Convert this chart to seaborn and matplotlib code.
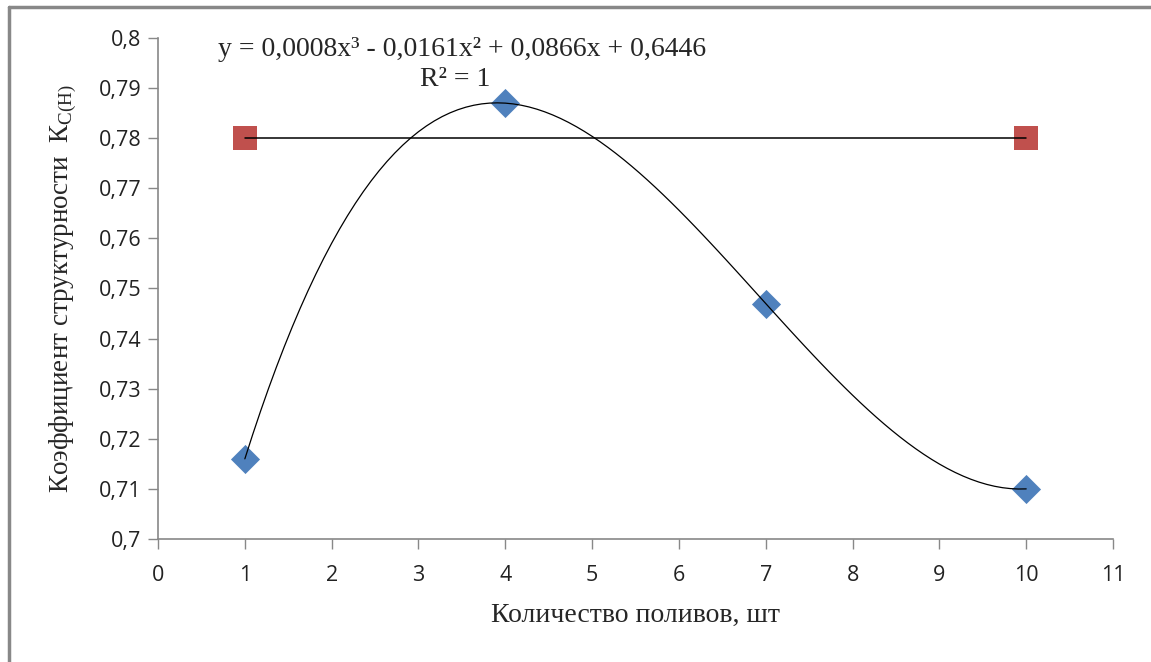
import matplotlib
matplotlib.use("Agg")
import matplotlib.pyplot as plt
import seaborn as sns
import pandas as pd

# data
irrigations = [1, 4, 7, 10]
k_structure = [0.716, 0.787, 0.747, 0.710]
ref_x = [1, 10]
ref_y = [0.78, 0.78]

x_ticks = [0, 1, 2, 3, 4, 5, 6, 7, 8, 9, 10, 11]
y_ticks = [0.70, 0.71, 0.72, 0.73, 0.74, 0.75, 0.76, 0.77, 0.78, 0.79, 0.80]
y_tick_labels = ["0,7", "0,71", "0,72", "0,73", "0,74", "0,75", "0,76", "0,77", "0,78", "0,79", "0,8"]

equation = "y = 0,0008x³ - 0,0161x² + 0,0866x + 0,6446"
r2_text = "R² = 1"

df = pd.DataFrame({"x": irrigations, "y": k_structure})
ref = pd.DataFrame({"x": ref_x, "y": ref_y})

sns.set_style("white")
plt.rcParams["font.family"] = ["Open Sans", "DejaVu Sans"]
serif = ["Liberation Serif", "DejaVu Serif"]

fig = plt.figure(figsize=(11.51, 6.62), dpi=100)
ax = fig.add_axes([0.1373, 0.1858, 0.8297, 0.7568])

# outer chart frame (only top and left visible in the crop)
fig.add_artist(plt.Line2D([0.0075, 1.0], [0.9895, 0.9895], color="#888888", lw=2.5,
                          transform=fig.transFigure))
fig.add_artist(plt.Line2D([0.0075, 0.0075], [0.0, 0.9895], color="#888888", lw=2.5,
                          transform=fig.transFigure))

sns.scatterplot(data=df, x="x", y="y", marker="D", s=220, color="#4F81BD",
                edgecolor="#4F81BD", linewidth=0, ax=ax, zorder=3)
sns.scatterplot(data=ref, x="x", y="y", marker="s", s=290, color="#C0504D",
                edgecolor="#C0504D", linewidth=0, ax=ax, zorder=3)
sns.lineplot(data=ref, x="x", y="y", color="black", lw=1.1, ax=ax, zorder=4)
sns.regplot(data=df, x="x", y="y", order=3, ci=None, scatter=False, truncate=True,
            line_kws={"color": "black", "lw": 0.9, "zorder": 4}, ax=ax)

ax.set_xlim(0, 11)
ax.set_ylim(0.7, 0.8)
ax.set_xticks(x_ticks)
ax.set_xticklabels([str(t) for t in x_ticks])
ax.set_yticks(y_ticks)
ax.set_yticklabels(y_tick_labels)
ax.tick_params(axis="both", labelsize=15.5, colors="#222222", length=7, width=1,
               color="#888888", direction="out", pad=5, bottom=True, left=True)
ax.tick_params(axis="x", pad=12)

for side in ["top", "right"]:
    ax.spines[side].set_visible(False)
for side in ["left", "bottom"]:
    ax.spines[side].set_color("#888888")
    ax.spines[side].set_linewidth(1.2)

ax.set_xlabel("Количество поливов, шт", family=serif, fontsize=20, labelpad=12)
ax.set_ylabel(r"Коэффициент структурности  К$_{\mathregular{C(H)}}$",
              family=serif, fontsize=19.5, labelpad=14)

ax.text(3.5, 0.7977, equation, family=serif, fontsize=20, ha="center", va="center")
ax.text(3.42, 0.7917, r2_text, family=serif, fontsize=20, ha="center", va="center")

plt.savefig("out.png", dpi=100)
